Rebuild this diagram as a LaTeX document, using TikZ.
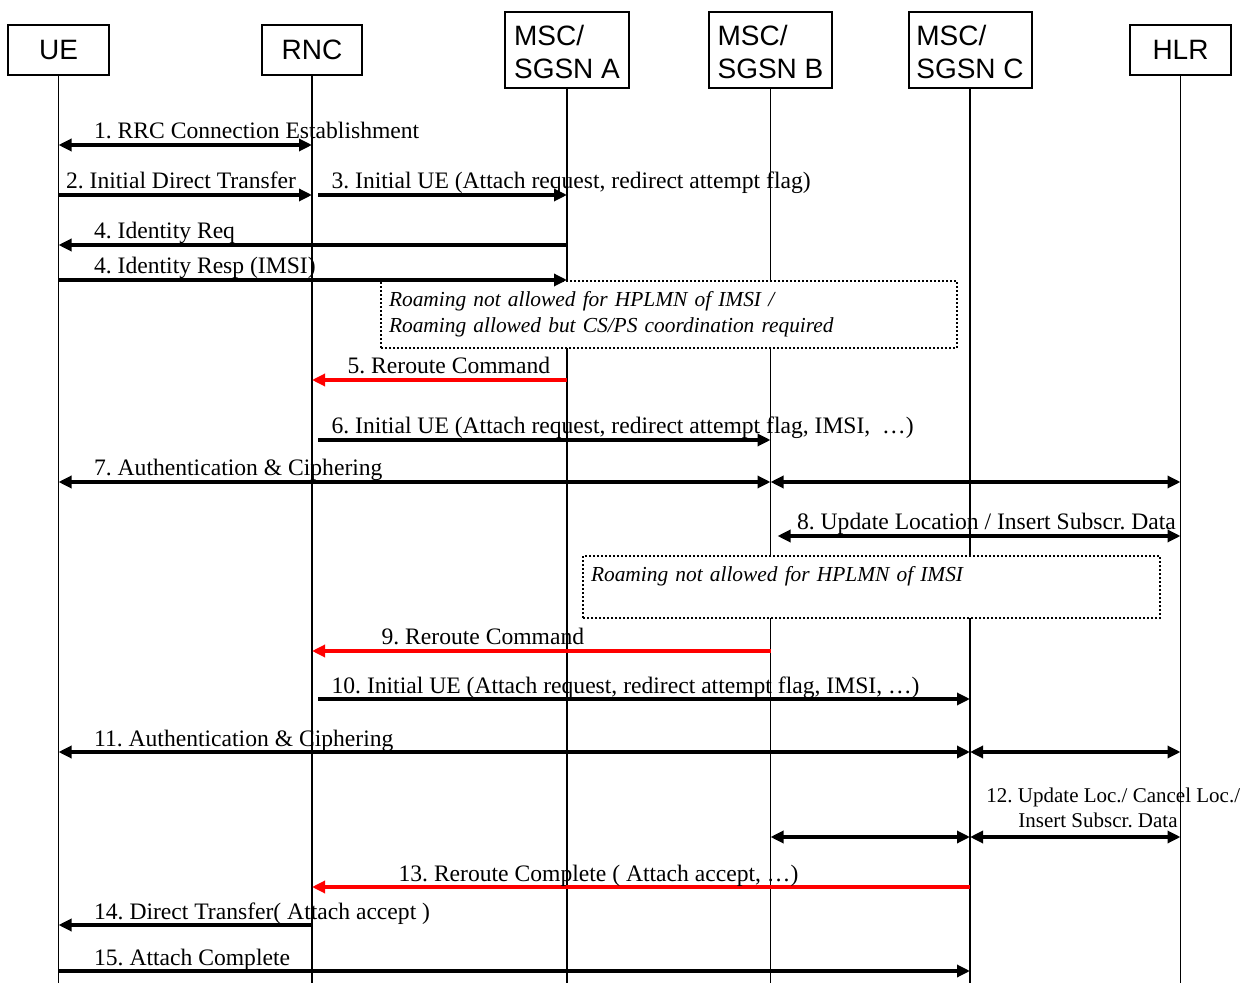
\documentclass[tikz,border=0pt]{standalone}
\usepackage{fontspec}
\setmainfont{Liberation Serif}
\newfontfamily\entfont{Liberation Sans}
\usetikzlibrary{arrows.meta}
\frenchspacing
\begin{document}
\begin{tikzpicture}[x=0.5pt,y=-0.5pt,
  >={Triangle[length=6.5pt,width=6pt]},
  ent/.style={rectangle,draw=black,line width=1pt,fill=white,align=left,inner sep=0pt,font=\entfont\fontsize{14}{16.5}\selectfont},
  life/.style={line width=0.85pt},
  msg/.style={line width=1.6pt},
  lbl/.style={anchor=base west,inner sep=0pt,yshift=3pt,text=black,font=\fontsize{11.8}{14}\selectfont},
  note/.style={rectangle,draw=black,densely dotted,line width=1pt,fill=white,anchor=north west,align=left,inner xsep=4pt,font=\itshape\fontsize{10.7}{13}\selectfont}]
\useasboundingbox (0,0) rectangle (1253,983);
% \draw[help lines,step=50] (0,0) grid (1253,983);
\node (ue) [ent,minimum width=50.5pt,minimum height=25pt] at (58.5,50) {UE};
\node (rnc) [ent,minimum width=50pt,minimum height=25pt] at (312,50) {RNC};
\node (mscA) [ent,minimum width=62pt,minimum height=38pt,text depth=0pt] at (567,50) {\\[-4pt]MSC/\\SGSN A};
\node (mscB) [ent,minimum width=61.5pt,minimum height=38pt,text depth=0pt] at (770.5,50) {\\[-4pt]MSC/\\SGSN B};
\node (mscC) [ent,minimum width=61.5pt,minimum height=38pt,text depth=0pt] at (970,50) {\\[-4pt]MSC/\\SGSN C};
\node (hlr) [ent,minimum width=50.5pt,minimum height=25pt] at (1180.5,50) {HLR};
%
\coordinate (bot) at (0,983);
\foreach \n in {ue,rnc,mscA,mscB,mscC,hlr}
  \draw[life] (\n) -- (\n |- bot);
%
\coordinate (r1) at (0,145);
\coordinate (r2) at (0,195);
\coordinate (r4) at (0,245);
\coordinate (r4b) at (0,280);
\coordinate (r5) at (0,380);
\coordinate (r6) at (0,440);
\coordinate (r7) at (0,482);
\coordinate (r8) at (0,536);
\coordinate (r9) at (0,651);
\coordinate (r10) at (0,699);
\coordinate (r11) at (0,752);
\coordinate (r12) at (0,837);
\coordinate (r13) at (0,887);
\coordinate (r14) at (0,925);
\coordinate (r15) at (0,971);
%
\node (noteA) [note,text width=280pt,minimum height=33.5pt] at (380,280) {Roaming not allowed for HPLMN of IMSI /\\Roaming allowed but CS/PS coordination required};
\node (noteB) [note,text width=280.5pt,minimum height=31pt] at (582,555) {Roaming not allowed for HPLMN of IMSI\\\mbox{}};
%
{\path[msg,<->] (ue |- r1) edge node[lbl,pos=0,xshift=17pt] {1. RRC Connection Establishment} (rnc |- r1);}
{\path[msg,->] (ue |- r2) edge node[lbl,pos=0,xshift=3pt] {2. Initial Direct Transfer} (rnc |- r2);}
{\path[msg,->] ([xshift=3pt]rnc |- r2) edge node[lbl,pos=0,xshift=6pt] {3. Initial UE (Attach request, redirect attempt flag)} (mscA |- r2);}
{\path[msg,<-] (ue |- r4) edge node[lbl,pos=0,xshift=17pt] {4. Identity Req} (mscA |- r4);}
{\path[msg,->] (ue |- r4b) edge node[lbl,pos=0,xshift=17pt] {4. Identity Resp (IMSI)} (mscA |- r4b);}
%
{\path[msg,red,<-] (rnc |- r5) edge node[lbl,pos=0,xshift=17pt] {5. Reroute Command} (mscA |- r5);}
{\path[msg,->] ([xshift=3pt]rnc |- r6) edge node[lbl,pos=0,xshift=6pt] {6. Initial UE (Attach request, redirect attempt flag, IMSI,\ \ \ldots)} (mscB |- r6);}
{\path[msg,<->] (ue |- r7) edge node[lbl,pos=0,xshift=17pt] {7. Authentication \& Ciphering} (mscB |- r7);}
{\path[msg,<->] (mscB |- r7) edge (hlr |- r7);}
{\path[msg,<->] ([xshift=3.5pt]mscB |- r8) edge node[lbl,pos=0,xshift=9pt] {8. Update Location / Insert Subscr. Data} (hlr |- r8);}
%
{\path[msg,red,<-] (rnc |- r9) edge node[lbl,pos=0,xshift=34pt] {9. Reroute Command} (mscB |- r9);}
{\path[msg,->] ([xshift=3pt]rnc |- r10) edge node[lbl,pos=0,xshift=6pt] {10. Initial UE (Attach request, redirect attempt flag, IMSI, \ldots)} (mscC |- r10);}
{\path[msg,<->] (ue |- r11) edge node[lbl,pos=0,xshift=17pt] {11. Authentication \& Ciphering} (mscC |- r11);}
{\path[msg,<->] (mscC |- r11) edge (hlr |- r11);}
{\path[msg,<->] (mscB |- r12) edge (mscC |- r12);}
{\path[msg,<->] (mscC |- r12) edge node[above=4pt,xshift=19pt,inner sep=0pt,align=left,text=black,font=\fontsize{10.5}{12.5}\selectfont] {12. Update Loc./ Cancel Loc./\\\hspace*{16pt}Insert Subscr. Data} (hlr |- r12);}
%
{\path[msg,red,<-] (rnc |- r13) edge node[lbl,pos=0,xshift=42.5pt] {13. Reroute Complete ( Attach accept, \ldots)} (mscC |- r13);}
{\path[msg,<-] (ue |- r14) edge node[lbl,pos=0,xshift=17pt] {14. Direct Transfer( Attach accept )} (rnc |- r14);}
{\path[msg,->] (ue |- r15) edge node[lbl,pos=0,xshift=17pt] {15. Attach Complete} (mscC |- r15);}
\end{tikzpicture}
\end{document}
